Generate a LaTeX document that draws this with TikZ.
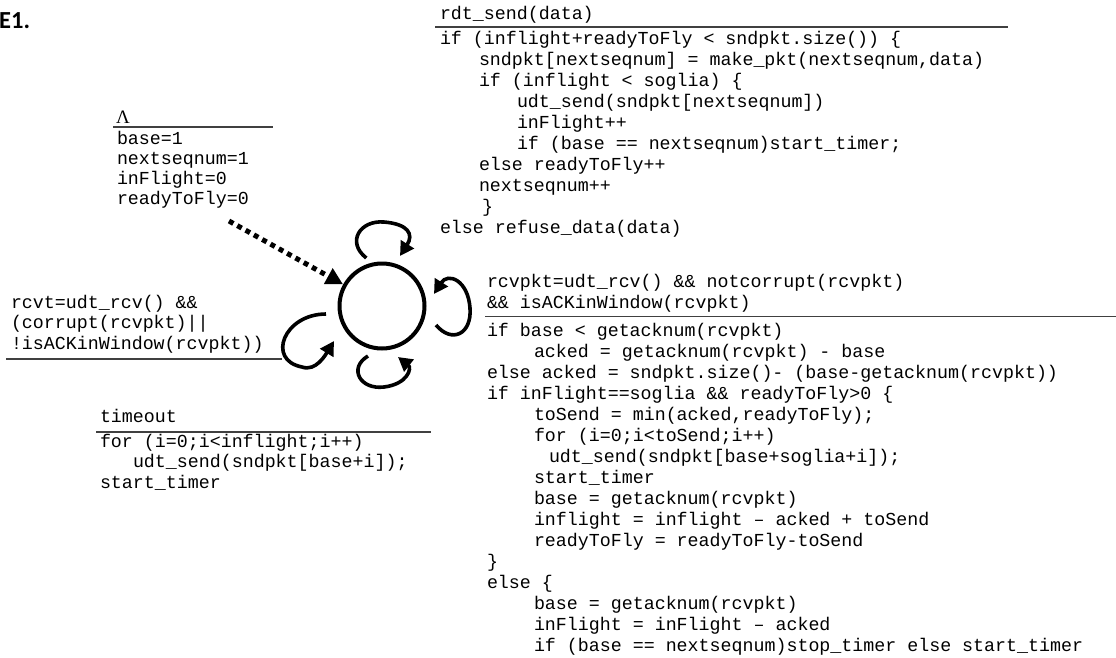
\documentclass[tikz,border=0pt]{standalone}
\usepackage{fontspec}
\newfontfamily\codefont{Liberation Mono}
\newfontfamily\lamfont{Liberation Serif}
\newfontfamily\headfont{Carlito}
\usetikzlibrary{arrows.meta}
\newcommand\cdl[2][0]{\hbox{\hspace*{#1pt}\strut #2}}
\newcommand\cdsize[1]{\codefont\fontsize{18.3}{#1}\selectfont\frenchspacing}
\tikzset{
  cblock/.style={anchor=base west, inner sep=0pt, outer sep=0pt, font=\cdsize{#1}},
  cblock/.default=21,
  sepline/.style={line width=1.3pt, draw=black!75},
  selfloop/.style={line width=3.6pt, -{Triangle[length=14pt,width=15pt]}},
  initarrow/.style={line width=5pt, dash pattern=on 5pt off 4.5pt, -{Triangle[length=17pt,width=17pt]}},
  statecircle/.style={draw, circle, line width=4pt, minimum size=85pt, inner sep=0pt},
}
\begin{document}
\begin{tikzpicture}[x=1pt,y=-1pt]
\useasboundingbox (0,0) rectangle (1116,657);

% title
\node[anchor=base west, inner sep=0pt, font=\headfont\bfseries\fontsize{24.5}{26}\selectfont] (title) at (-1,28) {E1.};

% initial transition label
\node[anchor=base west, inner sep=0pt, font=\lamfont\fontsize{19}{20}\selectfont] (lam) at (116,123.5) {Λ};
\draw[sepline] (113,127) -- (273,127);
\node[cblock=20] (init) at (117,144) {\vtop{%
\cdl{base=1}%
\cdl{nextseqnum=1}%
\cdl{inFlight=0}%
\cdl{readyToFly=0}}};

% rdt_send transition
\node[cblock] (sendev) at (440,19) {rdt\_send(data)};
\draw[sepline] (435,27) -- (1008,27);
\node[cblock=21] (sendact) at (440,44) {\vtop{%
\cdl{if (inflight+readyToFly < sndpkt.size()) \{}%
\cdl[39]{sndpkt[nextseqnum] = make\_pkt(nextseqnum,data)}%
\cdl[39]{if (inflight < soglia) \{}%
\cdl[77]{udt\_send(sndpkt[nextseqnum])}%
\cdl[77]{inFlight++}%
\cdl[77]{if (base == nextseqnum)start\_timer;}%
\cdl[39]{else readyToFly++}%
\cdl[39]{nextseqnum++}%
\cdl[42]{\}}%
\cdl{else refuse\_data(data)}}};

% ack transition
\node[cblock=21] (ackev) at (487,287) {\vtop{%
\cdl{rcvpkt=udt\_rcv() \&\& notcorrupt(rcvpkt)}%
\cdl{\&\& isACKinWindow(rcvpkt)}}};
\draw[sepline] (485,316.5) -- (1116,316.5);
\node[cblock=21] (ackact) at (487,336) {\vtop{%
\cdl{if base < getacknum(rcvpkt)}%
\cdl[47]{acked = getacknum(rcvpkt) - base}%
\cdl{else acked = sndpkt.size()- (base-getacknum(rcvpkt))}%
\cdl{if inFlight==soglia \&\& readyToFly>0 \{}%
\cdl[47]{toSend = min(acked,readyToFly);}%
\cdl[47]{for (i=0;i<toSend;i++)}%
\cdl[62]{udt\_send(sndpkt[base+soglia+i]);}%
\cdl[47]{start\_timer}%
\cdl[47]{base = getacknum(rcvpkt)}%
\cdl[47]{inflight = inflight – acked + toSend}%
\cdl[47]{readyToFly = readyToFly-toSend}%
\cdl{\}}%
\cdl{else \{}%
\cdl[47]{base = getacknum(rcvpkt)}%
\cdl[47]{inFlight = inFlight – acked}%
\cdl[47]{if (base == nextseqnum)stop\_timer else start\_timer}}};

% corrupt / not in window transition
\node[cblock=20.5] (errev) at (11,308) {\vtop{%
\cdl{rcvt=udt\_rcv() \&\&}%
\cdl{(corrupt(rcvpkt)||}%
\cdl{!isACKinWindow(rcvpkt))}}};
\draw[sepline] (6,359) -- (282,359);

% timeout transition
\node[cblock] (toev) at (100,422) {timeout};
\draw[sepline] (96,432) -- (431,432);
\node[cblock=20.5] (toact) at (100,447) {\vtop{%
\cdl{for (i=0;i<inflight;i++)}%
\cdl[33]{udt\_send(sndpkt[base+i]);}%
\cdl{start\_timer}}};

% state
\node[statecircle] (s) at (382,306) {};

% initial arrow
\coordinate (initstart) at (229,221);
\draw[initarrow] (initstart) -- (s);

% self loops
\begin{scope}[shift={(s.center)}]
\coordinate (t1) at (-15.7,-48);
\coordinate (h1) at (18,-50);
\draw[selfloop] (t1) .. controls (-36,-64) and (-22,-86) .. (2,-84) .. controls (26,-82) and (32,-72) .. (h1);
\coordinate (t2) at (54,19);
\coordinate (h2) at (52,-12);
\draw[selfloop] (t2) .. controls (70,38) and (90,28) .. (88,2) .. controls (86,-26) and (66,-34) .. (h2);
\coordinate (t3) at (-14,50);
\coordinate (h3) at (16,51);
\draw[selfloop] (t3) .. controls (-34,62) and (-22,84) .. (2,81) .. controls (26,78) and (30,62) .. (h3);
\coordinate (t4) at (-56,8);
\coordinate (h4) at (-48,35);
\draw[selfloop] (t4) .. controls (-98,8) and (-116,54) .. (-80,61) .. controls (-66,66) and (-56,48) .. (h4);
\end{scope}
\end{tikzpicture}
\end{document}
